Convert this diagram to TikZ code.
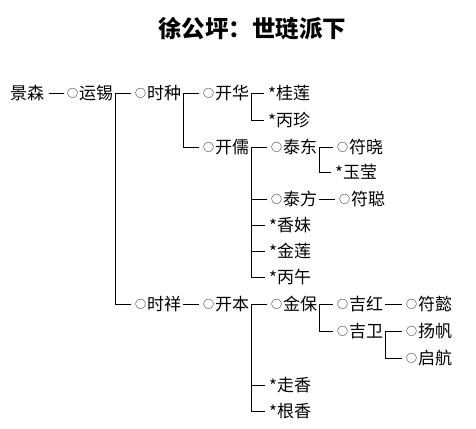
\documentclass[tikz,border=0pt]{standalone}
\usepackage{fontspec}
\newfontfamily\cjk{Noto Sans CJK SC}
\newcommand{\cir}{\makebox[12pt][l]{\raisebox{1.9pt}{\fontsize{11}{11}\selectfont ○}}}
\newcommand{\stm}{\makebox[8pt][l]{\raisebox{-1.5pt}{*}}}
\tikzset{
  person/.style={anchor=west, inner sep=0pt, text height=12pt, text depth=0pt, font=\cjk\fontsize{17}{17}\selectfont},
  link/.style={line width=1pt, black},
  titletext/.style={font=\cjk\bfseries\fontsize{23.5}{23.5}\selectfont}
}
\begin{document}
\begin{tikzpicture}[x=1pt,y=-1pt]
\useasboundingbox (0,0) rectangle (476,428);
\fill[white] (0,0) rectangle (476,428);
\node[titletext] (title) at (252,29) {徐公坪：世琏派下};
\node[person] (jingsen) at (10,93) {景森};
\node[person] (yunxi) at (67,93) {\cir 运锡};
\node[person] (shizhong) at (135,93) {\cir 时种};
\node[person] (kaihua) at (203,93) {\cir 开华};
\node[person] (guilian) at (268,93) {\stm 桂莲};
\node[person] (bingzhen) at (268,120) {\stm 丙珍};
\node[person] (kairu) at (203,147) {\cir 开儒};
\node[person] (taidong) at (271,147) {\cir 泰东};
\node[person] (fuxiao) at (337,147) {\cir 符晓};
\node[person] (yuying) at (335,172) {\stm 玉莹};
\node[person] (taifang) at (271,199) {\cir 泰方};
\node[person] (fucong) at (339,199) {\cir 符聪};
\node[person] (xiangmei) at (269,225) {\stm 香妹};
\node[person] (jinlian) at (269,251) {\stm 金莲};
\node[person] (bingwu) at (269,277) {\stm 丙午};
\node[person] (shixiang) at (135,304) {\cir 时祥};
\node[person] (kaiben) at (203,304) {\cir 开本};
\node[person] (jinbao) at (271,304) {\cir 金保};
\node[person] (jihong) at (337,304) {\cir 吉红};
\node[person] (fuyi) at (406,304) {\cir 符懿};
\node[person] (jiwei) at (337,331) {\cir 吉卫};
\node[person] (yangfan) at (406,331) {\cir 扬帆};
\node[person] (qihang) at (406,358) {\cir 启航};
\node[person] (zouxiang) at (269,385) {\stm 走香};
\node[person] (genxiang) at (269,411) {\stm 根香};
\draw[link] ([xshift=5pt]jingsen.east) -- ([xshift=-3pt]yunxi.west);
\foreach \p/\c in {yunxi/shizhong, yunxi/shixiang, shizhong/kaihua, shizhong/kairu,
  kaihua/guilian, kaihua/bingzhen, kairu/taidong, kairu/taifang, kairu/xiangmei,
  kairu/jinlian, kairu/bingwu, taidong/fuxiao, taidong/yuying, taifang/fucong,
  shixiang/kaiben, kaiben/jinbao, kaiben/zouxiang, kaiben/genxiang,
  jinbao/jihong, jinbao/jiwei, jihong/fuyi, jiwei/yangfan, jiwei/qihang}
  \draw[link] ([xshift=2pt]\p.east) |- ([xshift=-4pt]\c.west);
\end{tikzpicture}
\end{document}
